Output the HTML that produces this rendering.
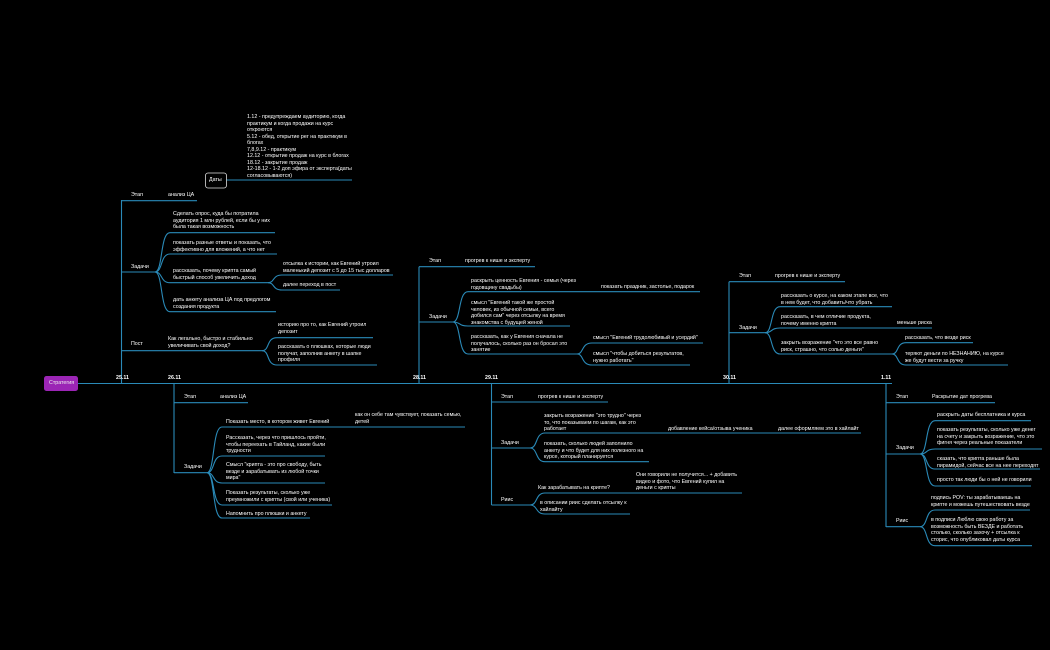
<!DOCTYPE html>
<html><head><meta charset="utf-8"><style>
html,body{margin:0;padding:0;background:#000;width:1050px;height:650px;overflow:hidden}
.t{position:absolute;color:#fff;font-family:"Liberation Sans","DejaVu Sans",sans-serif;font-size:5.3px;line-height:6.5px;white-space:nowrap}
.d{font-weight:bold}
svg{position:absolute;left:0;top:0}
</style></head><body>
<svg width="1050" height="650" fill="none" stroke="#2a8ab8" stroke-width="1.1">
<path d="M78,383.5 H892"/>
<path d="M121.5,383 V200"/>
<path d="M121.5,200.7 H197"/>
<path d="M121.5,272 H155"/>
<path d="M155,272 C163,272 160,232.7 170,232.7 H275"/>
<path d="M155,272 C163,272 160,254 170,254 H277"/>
<path d="M155,272 C163,272 160,282.7 170,282.7 H268"/>
<path d="M155,272 C163,272 160,311.7 170,311.7 H276"/>
<path d="M268,282.7 C275,282.7 272,275 282,275 H393"/>
<path d="M268,282.7 C275,282.7 272,290 282,290 H340"/>
<path d="M121.5,350.7 H262"/>
<path d="M262,350.7 C270,350.7 266,337.7 277,337.7 H373"/>
<path d="M262,350.7 C270,350.7 266,365 277,365 H377"/>
<path d="M226,180 H352"/>
<path d="M174,383 V473"/>
<path d="M174,402.7 H248"/>
<path d="M174,472.7 H207"/>
<path d="M207,472.7 C215,472.7 212,427 222,427 H465"/>
<path d="M207,472.7 C215,472.7 212,456 222,456 H325"/>
<path d="M207,472.7 C215,472.7 212,483 222,483 H325"/>
<path d="M207,472.7 C215,472.7 212,505 222,505 H332"/>
<path d="M207,472.7 C215,472.7 212,518 222,518 H310"/>
<path d="M419,383 V266.7"/>
<path d="M419,266.7 H535"/>
<path d="M419,322 H453"/>
<path d="M453,322 C461,322 458,291.7 468,291.7 H700"/>
<path d="M453,322 C461,322 458,326 468,326 H570"/>
<path d="M453,322 C461,322 458,354 468,354 H577"/>
<path d="M577,354 C584,354 581,343 592,343 H703"/>
<path d="M577,354 C584,354 581,365 592,365 H690"/>
<path d="M491.5,383 V505"/>
<path d="M491.5,402 H608"/>
<path d="M491.5,448 H530"/>
<path d="M530,448 C538,448 535,433 545,433 H861"/>
<path d="M530,448 C538,448 535,461.7 545,461.7 H649"/>
<path d="M491.5,505 H530"/>
<path d="M530,505 C538,505 535,493 545,493 H742"/>
<path d="M530,505 C538,505 535,514 545,514 H630"/>
<path d="M729,383 V281.7"/>
<path d="M729,281.7 H845"/>
<path d="M729,332.7 H765"/>
<path d="M765,332.7 C773,332.7 770,306.7 780,306.7 H892"/>
<path d="M765,332.7 C773,332.7 770,328 780,328 H932"/>
<path d="M765,332.7 C773,332.7 770,354 780,354 H892"/>
<path d="M892,354 C899,354 896,342.7 906,342.7 H973"/>
<path d="M892,354 C899,354 896,365 906,365 H1008"/>
<path d="M886,383 V527"/>
<path d="M886,402.7 H995"/>
<path d="M886,454 H920"/>
<path d="M920,454 C928,454 925,420.7 935,420.7 H1031"/>
<path d="M920,454 C928,454 925,449 935,449 H1042"/>
<path d="M920,454 C928,454 925,469 935,469 H1040"/>
<path d="M920,454 C928,454 925,486 935,486 H1031"/>
<path d="M886,526.7 H920"/>
<path d="M920,526.7 C928,526.7 925,510 935,510 H1030"/>
<path d="M920,526.7 C928,526.7 925,545.7 935,545.7 H1032"/>
<rect x="205.5" y="173" width="21" height="15" rx="2.5" stroke="#ddd" stroke-width="0.8" fill="#000"/>
<rect x="44" y="376" width="34" height="15" rx="2.5" fill="#9b25b5" stroke="none"/>
</svg>

<div class="t" style="left:49px;top:380px;color:#eee">Стратегия</div>
<div class="t" style="left:209px;top:177px">Даты</div>
<div class="t d" style="left:116px;top:375px">25.11</div>
<div class="t d" style="left:168px;top:375px">26.11</div>
<div class="t d" style="left:413px;top:375px">28.11</div>
<div class="t d" style="left:485px;top:375px">29.11</div>
<div class="t d" style="left:723px;top:375px">30.11</div>
<div class="t d" style="left:881px;top:375px">1.11</div>

<div class="t" style="left:247px;top:114px">1.12 - предупреждаем аудиторию, когда<br>практикум и когда продажи на курс<br>откроются<br>5.12 - обед, открытие рег на практикум в<br>блогах<br>7,8,9.12 - практикум<br>12.12 - открытие продаж на курс в блогах<br>18.12 - закрытие продаж<br>12-18.12 - 1-2 доп эфира от эксперта(даты<br>согласовываются)</div>

<div class="t" style="left:131px;top:192px">Этап</div>
<div class="t" style="left:168px;top:192px">анализ ЦА</div>
<div class="t" style="left:131px;top:264px">Задачи</div>
<div class="t" style="left:173px;top:211px">Сделать опрос, куда бы потратила<br>аудитория 1 млн рублей, если бы у них<br>была такая возможность</div>
<div class="t" style="left:173px;top:240px">показать разные ответы и показать, что<br>эффективно для вложений, а что нет</div>
<div class="t" style="left:173px;top:268px">рассказать, почему крипта самый<br>быстрый способ увеличить доход</div>
<div class="t" style="left:173px;top:297px">дать анкету анализа ЦА под предлогом<br>создания продукта</div>
<div class="t" style="left:283px;top:261px">отсылка к истории, как Евгений утроил<br>маленький депозит с 5 до 15 тыс долларов</div>
<div class="t" style="left:283px;top:282px">далее переход в пост</div>
<div class="t" style="left:131px;top:341px">Пост</div>
<div class="t" style="left:168px;top:336px">Как легально, быстро и стабильно<br>увеличивать свой доход?</div>
<div class="t" style="left:278px;top:322px">историю про то, как Евгений утроил<br>депозит</div>
<div class="t" style="left:278px;top:344px">рассказать о плюшках, которые люди<br>получат, заполнив анкету в шапке<br>профиля</div>

<div class="t" style="left:184px;top:394px">Этап</div>
<div class="t" style="left:220px;top:394px">анализ ЦА</div>
<div class="t" style="left:184px;top:464px">Задачи</div>
<div class="t" style="left:226px;top:419px">Показать место, в котором живет Евгений</div>
<div class="t" style="left:355px;top:412px">как он себе там чувствует, показать семью,<br>детей</div>
<div class="t" style="left:226px;top:435px">Рассказать, через что пришлось пройти,<br>чтобы переехать в Тайланд, какие были<br>трудности</div>
<div class="t" style="left:226px;top:462px">Смысл "крипта - это про свободу, быть<br>везде и зарабатывать из любой точки<br>мира"</div>
<div class="t" style="left:226px;top:490px">Показать результаты, сколько уже<br>преумножили с крипты (свой или ученика)</div>
<div class="t" style="left:226px;top:511px">Напомнить про плюшки и анкету</div>

<div class="t" style="left:429px;top:258px">Этап</div>
<div class="t" style="left:465px;top:258px">прогрев к нише и эксперту</div>
<div class="t" style="left:429px;top:314px">Задачи</div>
<div class="t" style="left:471px;top:278px">раскрыть ценность Евгения - семья (через<br>годовщину свадьбы)</div>
<div class="t" style="left:601px;top:284px">показать праздник, застолье, подарок</div>
<div class="t" style="left:471px;top:300px">смысл "Евгений такой же простой<br>человек, из обычной семьи, всего<br>добился сам" через отсылку на время<br>знакомства с будущей женой</div>
<div class="t" style="left:471px;top:334px">рассказать, как у Евгения сначала не<br>получалось, сколько раз он бросал это<br>занятие</div>
<div class="t" style="left:593px;top:335px">смысл "Евгений трудолюбивый и усердий"</div>
<div class="t" style="left:593px;top:351px">смысл "чтобы добиться результатов,<br>нужно работать"</div>

<div class="t" style="left:501px;top:394px">Этап</div>
<div class="t" style="left:538px;top:394px">прогрев к нише и эксперту</div>
<div class="t" style="left:501px;top:440px">Задачи</div>
<div class="t" style="left:544px;top:413px">закрыть возражение "это трудно" через<br>то, что показываем по шагам, как это<br>работает</div>
<div class="t" style="left:668px;top:426px">добавление кейса/отзыва ученика</div>
<div class="t" style="left:778px;top:426px">далее оформляем это в хайлайт</div>
<div class="t" style="left:544px;top:441px">показать, сколько людей заполнило<br>анкету и что будет для них полезного на<br>курсе, который планируется</div>
<div class="t" style="left:501px;top:497px">Риис</div>
<div class="t" style="left:538px;top:485px">Как зарабатывать на крипте?</div>
<div class="t" style="left:636px;top:472px">Они говорили не получится... + добавить<br>видео и фото, что Евгений купил на<br>деньги с крипты</div>
<div class="t" style="left:540px;top:500px">в описании риис сделать отсылку к<br>хайлайту</div>

<div class="t" style="left:739px;top:273px">Этап</div>
<div class="t" style="left:775px;top:273px">прогрев к нише и эксперту</div>
<div class="t" style="left:739px;top:325px">Задачи</div>
<div class="t" style="left:781px;top:293px">рассказать о курсе, на каком этапе все, что<br>в нем будет, что добавить/что убрать</div>
<div class="t" style="left:781px;top:314px">рассказать, в чем отличие продукта,<br>почему именно крипта</div>
<div class="t" style="left:897px;top:320px">меньше риска</div>
<div class="t" style="left:781px;top:340px">закрыть возражение "что это все равно<br>риск, страшно, что солью деньги"</div>
<div class="t" style="left:905px;top:335px">рассказать, что везде риск</div>
<div class="t" style="left:905px;top:351px">теряют деньги по НЕЗНАНИЮ, на курсе<br>же будут вести за ручку</div>

<div class="t" style="left:896px;top:394px">Этап</div>
<div class="t" style="left:932px;top:394px">Раскрытие дат прогрева</div>
<div class="t" style="left:896px;top:445px">Задачи</div>
<div class="t" style="left:937px;top:412px">раскрыть даты бесплатника и курса</div>
<div class="t" style="left:937px;top:427px">показать результаты, сколько уже денег<br>на счету и закрыть возражение, что это<br>фигня через реальные показатели</div>
<div class="t" style="left:937px;top:456px">сказать, что крипта раньше была<br>пирамидой, сейчас все на нее переходят</div>
<div class="t" style="left:937px;top:477px">просто так люди бы о ней не говорили</div>
<div class="t" style="left:896px;top:518px">Риис</div>
<div class="t" style="left:931px;top:495px">подпись POV: ты зарабатываешь на<br>крипте и можешь путешествовать везде</div>
<div class="t" style="left:931px;top:517px">в подписи Люблю свою работу за<br>возможность быть ВЕЗДЕ и работать<br>столько, сколько захочу + отсылка к<br>сторис, что опубликовал даты курса</div>
</body></html>
